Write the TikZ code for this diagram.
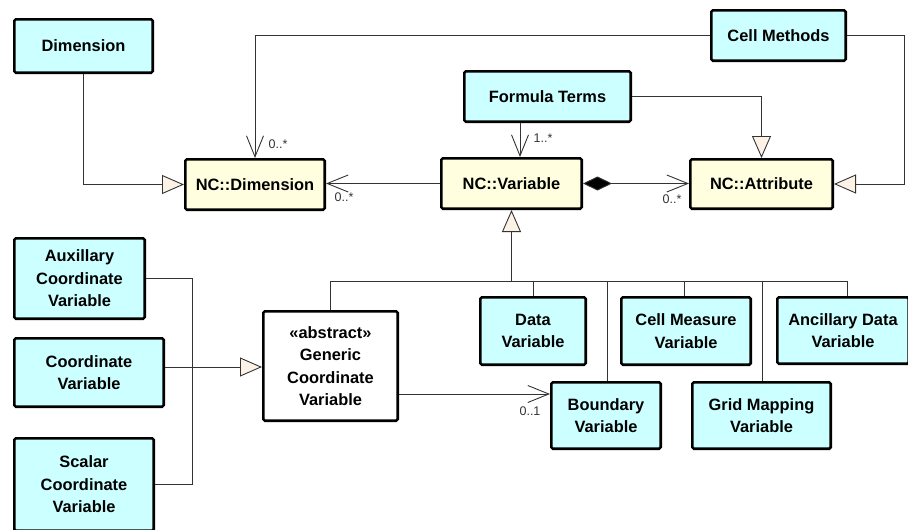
\documentclass[tikz,border=0pt]{standalone}
\usepackage{fontspec}
\setmainfont{Liberation Sans}
\usetikzlibrary{arrows.meta}
\definecolor{cyanfill}{HTML}{CCFFFF}
\definecolor{ncfill}{HTML}{FFFFE0}
\definecolor{trifill}{HTML}{FCF2E6}
\definecolor{linecol}{HTML}{333333}
\begin{document}
\begin{tikzpicture}[x=1pt,y=-1pt,
  box/.style={draw=black, line width=2.6pt, rounded corners=1.5pt, inner sep=0pt, align=center,
    font=\fontsize{16.4}{22.5}\selectfont\bfseries},
  cbox/.style={box, fill=cyanfill},
  nbox/.style={box, fill=ncfill},
  wbox/.style={box, fill=white},
  conn/.style={draw=linecol, line width=0.9pt},
  genarr/.style={conn, -{Triangle[length=22pt,width=19pt,fill=trifill]}},
  assoc/.style={conn, -{Straight Barb[length=21pt,width=17pt]}},
  comp/.style={conn, {Diamond[length=29pt,width=14pt,fill=black]}-{Straight Barb[length=21pt,width=17pt]}},
  mult/.style={font=\fontsize{12.5}{14}\selectfont, text=linecol, inner sep=0pt}
]
\useasboundingbox (0,0) rectangle (908,530);

% boxes
\node[cbox, minimum width=138.4pt, minimum height=53.4pt] (dim) at (83.5,46) {Dimension};
\node[cbox, minimum width=134.4pt, minimum height=50.4pt] (cm) at (778.5,35.5) {Cell Methods};
\node[cbox, minimum width=166.4pt, minimum height=50.4pt] (ft) at (547.5,96.5) {Formula Terms};
\node[nbox, minimum width=139.4pt, minimum height=50.4pt] (ncd) at (255,184.5) {NC::Dimension};
\node[nbox, minimum width=140.4pt, minimum height=50.4pt] (ncv) at (511.5,183.5) {NC::Variable};
\node[nbox, minimum width=142.4pt, minimum height=49.4pt] (nca) at (761.5,184) {NC::Attribute};
\node[cbox, minimum width=130.4pt, minimum height=80.4pt] (aux) at (79.5,278.5) {Auxillary\\Coordinate\\Variable};
\node[cbox, minimum width=149.4pt, minimum height=68.4pt] (coord) at (89,372.5) {Coordinate\\Variable};
\node[cbox, minimum width=139.4pt, minimum height=92.4pt] (scal) at (84,484.5) {Scalar\\Coordinate\\Variable};
\node[wbox, minimum width=134.4pt, minimum height=109.4pt] (gen) at (330.5,366) {«abstract»\\Generic\\Coordinate\\Variable};
\node[cbox, minimum width=105.4pt, minimum height=67.4pt] (data) at (533,331) {Data\\Variable};
\node[cbox, minimum width=129.4pt, minimum height=67.4pt] (cmv) at (686,331) {Cell Measure\\Variable};
\node[cbox, minimum width=131.4pt, minimum height=66.4pt] (anc) at (843,330.5) {Ancillary Data\\Variable};
\node[cbox, minimum width=109.4pt, minimum height=66.4pt] (bnd) at (606,415.5) {Boundary\\Variable};
\node[cbox, minimum width=138.4pt, minimum height=66.4pt] (grid) at (761.5,415.5) {Grid Mapping\\Variable};

% helper coordinates
\coordinate (rc) at (904,35.5);
\coordinate (fv) at (520,0);
\coordinate (jn) at (511.5,281);
\coordinate (jr) at (847,281);
\coordinate (jb) at (607,281);
\coordinate (jc) at (684,281);
\coordinate (jg) at (762,281);
\coordinate (jl) at (192,367);
\coordinate (by) at (0,394);

% top connectors
\draw[genarr] (dim.south) |- (ncd.west);
\draw[assoc] (cm.west) -| (ncd.north);
\draw[genarr] (cm.east) -- (rc) |- (nca.east);
\draw[assoc] (ft.south -| fv) -- (ncv.north -| fv);
\draw[genarr] (ft.east) -| (nca.north);
\draw[assoc] (ncv.west) -- (ncv.west -| ncd.east);
\draw[comp] (ncv.east) -- (ncv.east -| nca.west);

% generalization tree below NC::Variable
\draw[genarr] (jn) -- (ncv.south);
\draw[conn] (gen.north) |- (jr);
\draw[conn] (data.north) -- (data.north |- jn);
\draw[conn] (jb) -- (jb |- bnd.north);
\draw[conn] (jc) -- (jc |- cmv.north);
\draw[conn] (jg) -- (jg |- grid.north);
\draw[conn] (jr) -- (jr |- anc.north);

% left tree
\draw[conn] (aux.east) -| (jl);
\draw[conn] (scal.east) -| (jl);
\draw[conn] (coord.east |- jl) -- (jl);
\draw[genarr] (jl) -- (jl -| gen.west);

% generic -> boundary
\draw[assoc] (gen.east |- by) -- (bnd.west |- by);

% multiplicities
\node[mult] (m1) at (278,144) {0..*};
\node[mult] (m2) at (344,197) {0..*};
\node[mult] (m3) at (543,138) {1..*};
\node[mult] (m4) at (672,199) {0..*};
\node[mult] (m5) at (530,411) {0..1};
\end{tikzpicture}
\end{document}
